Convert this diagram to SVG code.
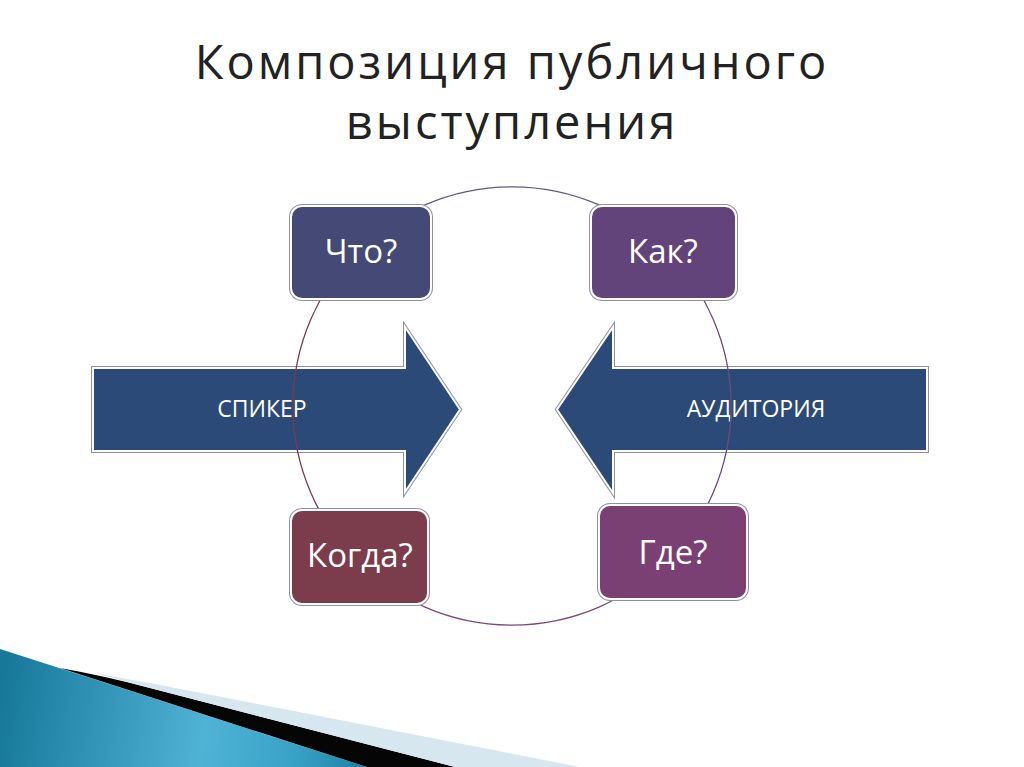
<svg xmlns="http://www.w3.org/2000/svg" width="1024" height="767" viewBox="0 0 1024 767">
<defs>
<linearGradient id="teal" gradientUnits="userSpaceOnUse" x1="0" y1="700" x2="370" y2="760">
<stop offset="0" stop-color="#17789a"/>
<stop offset="0.55" stop-color="#4fb3d6"/>
<stop offset="0.8" stop-color="#38a2c6"/>
<stop offset="1" stop-color="#1a80a5"/>
</linearGradient>
<style>
.title{font-family:"Open Sans","Noto Sans","DejaVu Sans",sans-serif;font-size:47px;letter-spacing:3px;fill:#222222;text-anchor:middle}
.bx{font-family:"Open Sans","Noto Sans","DejaVu Sans",sans-serif;font-size:33px;fill:#ffffff;text-anchor:middle}
.ar{font-family:"Open Sans","Noto Sans","DejaVu Sans",sans-serif;font-size:23px;fill:#ffffff;text-anchor:middle}
.halo{fill:none;stroke:#8e8ea6;stroke-width:4}
.edge{stroke:#ffffff;stroke-width:2}
.arc{fill:none;stroke-width:1.3}
</style>
</defs>
<rect width="1024" height="767" fill="#ffffff"/>
<g id="decor">
<path d="M0,649 L367,767 L0,767 Z" fill="url(#teal)"/>
<path d="M60,668 Q105,676 150,688 L455,767 L367,767 L150,697 Z" fill="#050505"/>
<path d="M95,673 Q120,678 150,683 L580,767 L455,767 L150,688 Q105,676 95,673 Z" fill="#d6e7ef"/>
</g>
<g id="title">
<text class="title" x="512" y="79">Композиция публичного</text>
<text class="title" x="512" y="139">выступления</text>
</g>
<g id="arrow-speaker">
<polygon class="halo" points="93,368 405,368 405,327 460,409.5 405,492 405,451 93,451"/>
<polygon class="edge" fill="#2c4a77" points="93,368 405,368 405,327 460,409.5 405,492 405,451 93,451"/>
<text class="ar" x="262" y="417">СПИКЕР</text>
</g>
<g id="arrow-audience">
<polygon class="halo" points="927,368 613,368 613,327 557,409.5 613,493 613,451 927,451"/>
<polygon class="edge" fill="#2c4a77" points="927,368 613,368 613,327 557,409.5 613,493 613,451 927,451"/>
<text class="ar" x="756" y="417">АУДИТОРИЯ</text>
</g>
<g id="connectors">
<path class="arc" stroke="#585c82" d="M357.1,251.1 A219,219 0 0 1 666.9,251.1"/>
<path class="arc" stroke="#6c4c80" d="M666.9,251.1 A219,219 0 0 1 666.9,560.9"/>
<path class="arc" stroke="#7a4a78" d="M666.9,560.9 A219,219 0 0 1 357.1,560.9"/>
<path class="arc" stroke="#7a3a50" d="M357.1,560.9 A219,219 0 0 1 357.1,251.1"/>
</g>
<g id="node-what">
<rect class="halo" x="291" y="206" width="140" height="93" rx="11"/>
<rect class="edge" fill="#444a75" x="291" y="206" width="140" height="93" rx="11"/>
<text class="bx" x="361" y="263">Что?</text>
</g>
<g id="node-how">
<rect class="halo" x="591" y="206" width="145" height="93" rx="11"/>
<rect class="edge" fill="#62437a" x="591" y="206" width="145" height="93" rx="11"/>
<text class="bx" x="663" y="263">Как?</text>
</g>
<g id="node-when">
<rect class="halo" x="291" y="510" width="137" height="94" rx="11"/>
<rect class="edge" fill="#7b3c4c" x="291" y="510" width="137" height="94" rx="11"/>
<text class="bx" x="360" y="567">Когда?</text>
</g>
<g id="node-where">
<rect class="halo" x="599" y="505" width="148" height="94" rx="11"/>
<rect class="edge" fill="#7a4073" x="599" y="505" width="148" height="94" rx="11"/>
<text class="bx" x="673" y="564">Где?</text>
</g>
</svg>
